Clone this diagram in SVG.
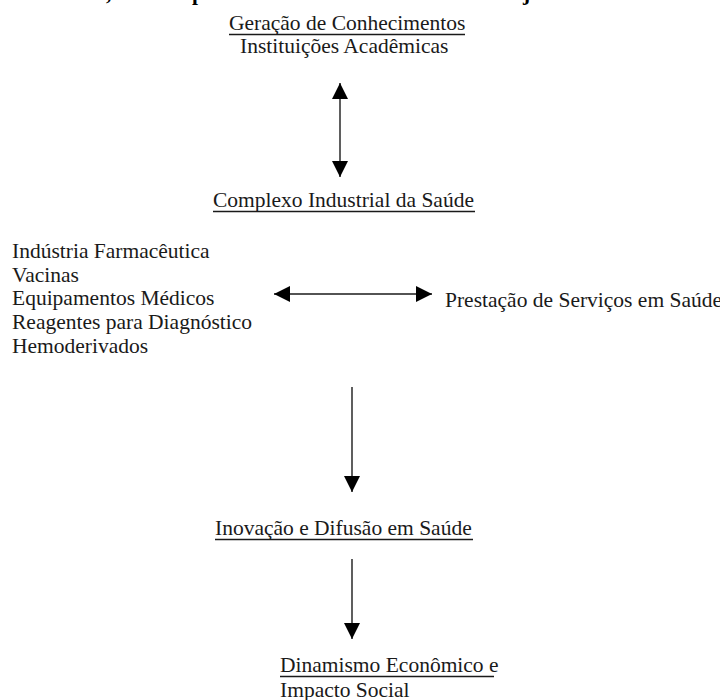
<svg xmlns="http://www.w3.org/2000/svg" width="720" height="700" viewBox="0 0 720 700">
  <style>
    .t { font-family: "Liberation Serif", "Times New Roman", serif; font-size: 21.5px; fill: #1a1a1a; }
    .title { font-family: "Liberation Serif", "Times New Roman", serif; font-size: 21.5px; font-weight: bold; fill: #000; }
    .ul { stroke: #1a1a1a; stroke-width: 1.6; }
    .conn { stroke: #1a1a1a; stroke-width: 1.4; fill: none; marker-end: url(#ah); }
    .both { marker-start: url(#ah); }
  </style>
  <defs>
    <marker id="ah" markerUnits="userSpaceOnUse" markerWidth="16" markerHeight="16" viewBox="0 0 16 16" refX="16" refY="8" orient="auto-start-reverse">
      <path d="M0,0 L16,8 L0,16 z" fill="#000"/>
    </marker>
  </defs>
  <rect width="720" height="700" fill="#fff"/>

  <g id="title-fragment">
    <text class="title" x="106" y="-0.5">,</text>
    <text class="title" x="192" y="-0.5">p</text>
    <text class="title" x="523" y="-0.5">j</text>
  </g>

  <g id="node-geracao">
    <text class="t" x="229" y="30">Geração de Conhecimentos</text>
    <line class="ul" x1="229" y1="34.5" x2="465" y2="34.5"/>
    <text class="t" x="240" y="53">Instituições Acadêmicas</text>
  </g>

  <g id="node-complexo">
    <text class="t" x="213" y="207">Complexo Industrial da Saúde</text>
    <line class="ul" x1="213" y1="211.5" x2="475" y2="211.5"/>
  </g>

  <g id="node-industria">
    <text class="t" x="12" y="257.5">Indústria Farmacêutica</text>
    <text class="t" x="12" y="281.5">Vacinas</text>
    <text class="t" x="12" y="305">Equipamentos Médicos</text>
    <text class="t" x="12" y="329">Reagentes para Diagnóstico</text>
    <text class="t" x="12" y="352.5">Hemoderivados</text>
  </g>

  <g id="node-servicos">
    <text class="t" x="445" y="307">Prestação de Serviços em Saúde</text>
  </g>

  <g id="node-inovacao">
    <text class="t" x="215" y="535">Inovação e Difusão em Saúde</text>
    <line class="ul" x1="215" y1="539.5" x2="473" y2="539.5"/>
  </g>

  <g id="node-dinamismo">
    <text class="t" x="280" y="672">Dinamismo Econômico e</text>
    <line class="ul" x1="280" y1="676.5" x2="494" y2="676.5"/>
    <text class="t" x="280" y="697">Impacto Social</text>
  </g>

  <g id="connectors">
    <line class="conn both" x1="340" y1="83" x2="340" y2="177"/>
    <line class="conn both" x1="274" y1="294" x2="432" y2="294"/>
    <line class="conn" x1="352" y1="387" x2="352" y2="492"/>
    <line class="conn" x1="352" y1="559" x2="352" y2="639"/>
  </g>
</svg>
